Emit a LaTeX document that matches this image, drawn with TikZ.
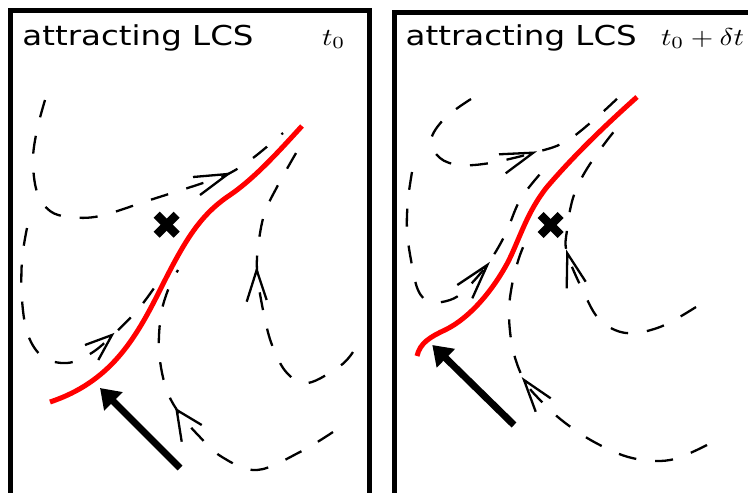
\documentclass[tikz,border=0pt]{standalone}
\usepackage{fontspec}
\usepackage{graphicx}
\usetikzlibrary{arrows.meta}
\newfontfamily\titlefont{DejaVu Sans}
\tikzset{
  frame/.style={line width=5pt, draw=black},
  lcs/.style={line width=5pt, draw=red, line cap=butt},
  traj/.style={line width=2.3pt, dash pattern=on 18pt off 19pt, line cap=butt},
  barb/.style={line width=2.3pt, solid, line join=miter},
  xbar/.style={line width=8.5pt, line cap=butt},
  bigarrow/.style={line width=7pt, -{Triangle[length=19pt,width=25pt]}},
  ttl/.style={anchor=base west, inner sep=0pt, outer sep=0pt},
}
\newcommand{\ttltext}[1]{\scalebox{1.185}[1]{\titlefont\fontsize{27.4}{30}\selectfont #1}}
\newcommand{\mathtext}[1]{\scalebox{2.89}[2.44]{#1}}
\begin{document}
\begin{tikzpicture}[x=1pt,y=-1pt]
\useasboundingbox (0,0) rectangle (748,493);
\clip (0,0) rectangle (748,493);
% frames
\draw[frame] (10.8,10.8) rectangle (369.2,520);
\draw[frame] (394.8,12.2) rectangle (790,520);
% titles
\node[ttl] (title1) at (22.5,45.3) {\ttltext{attracting LCS}};
\node[ttl] (time1) at (322,45.3) {\mathtext{$t_0$}};
\node[ttl] (title2) at (405.7,45.3) {\ttltext{attracting LCS}};
\node[ttl] (time2) at (661,45.3) {\mathtext{$t_0+\delta t$}};

% ===== left panel =====
% trajectories
\draw[traj] plot[smooth, tension=0.6] coordinates {(45,100) (37,130) (33,160) (37,192) (50,211) (70,217) (100,216) (150,200) (200,184) (228,174) (253,158) (283,133)};
\draw[traj] plot[smooth, tension=0.6] coordinates {(27,228) (22,260) (22,300) (28,335) (43,357) (67,363) (90,354) (112,336) (140,307) (163,275)};
\draw[traj] plot[smooth, tension=0.6] coordinates {(333,432) (300,452) (257,470) (222,457) (198,435) (177,410) (165,385) (159,350) (161,315) (168,290) (178,270)};
\draw[traj] plot[smooth, tension=0.6] coordinates {(353,352) (340,366) (308,383) (287,373) (272,345) (263,310) (257,270) (259,240) (265,212) (277,187) (292,160) (305,138)};
% arrowheads
\draw[barb] (193,177) -- (228,174) -- (200,195);
\draw[barb] (85,345) -- (112,335) -- (98.3,360);
\draw[barb] (201.7,425) -- (176.7,410) -- (181.7,441.7);
\draw[barb] (246.7,301.7) -- (256.7,270) -- (266.7,300);
% LCS
\coordinate (l0) at (50,402);
\coordinate (l1) at (160,290);
\coordinate (l2) at (230,195);
\coordinate (l3) at (302,126);
\draw[lcs] (l0) .. controls (110,382) and (135,340) .. (l1)
  .. controls (185,240) and (200,215) .. (l2)
  .. controls (255,178) and (280,150) .. (l3);
% saddle mark
\coordinate (xl) at (166.7,224.7);
\draw[xbar] ([shift={(-10,-10)}]xl) -- ([shift={(10,10)}]xl);
\draw[xbar] ([shift={(-10,10)}]xl) -- ([shift={(10,-10)}]xl);
% big arrow
\coordinate (al0) at (180,468);
\coordinate (al1) at (100,388);
\draw[bigarrow] (al0) -- (al1);

% ===== right panel =====
\draw[traj] plot[smooth, tension=0.6] coordinates {(471,99) (445,118) (431,140) (440,158) (460,165) (490,163) (533,153) (565,142) (596,118) (622,94)};
\draw[traj] plot[smooth, tension=0.6] coordinates {(412,172) (408,200) (407,230) (411,260) (418,290) (430,302) (450,300) (465,290) (487,265) (505,235) (520,200) (541,173)};
\draw[traj] plot[smooth, tension=0.6] coordinates {(707,445) (670,460) (632,458) (596,443) (564,422) (540,400) (524,380) (513,350) (509,315) (512,285) (520,255) (531,230)};
\draw[traj] plot[smooth, tension=0.6] coordinates {(696,307) (660,327) (626,333) (600,320) (584,293) (567,253) (567,230) (573,198) (585,172) (605,143) (625,118)};
\draw[barb] (499,154.3) -- (533.3,152.7) -- (505.7,173.3);
\draw[barb] (457.3,285) -- (487.3,265) -- (472.3,298.3);
\draw[barb] (550.7,398.3) -- (524,380) -- (535.7,411.7);
\draw[barb] (585.7,281.7) -- (567.3,253.3) -- (566.7,288.3);
\coordinate (r0) at (417,356);
\coordinate (r1) at (445,330);
\coordinate (r2) at (508,262);
\coordinate (r3) at (547,187);
\coordinate (r4) at (637,97);
\draw[lcs] (r0) .. controls (420,343) and (430,337) .. (r1)
  .. controls (470,318) and (493,290) .. (r2)
  .. controls (520,238) and (527,212) .. (r3)
  .. controls (570,160) and (600,130) .. (r4);
\coordinate (xr) at (550.7,225);
\draw[xbar] ([shift={(-10,-10)}]xr) -- ([shift={(10,10)}]xr);
\draw[xbar] ([shift={(-10,10)}]xr) -- ([shift={(10,-10)}]xr);
\coordinate (ar0) at (514,425);
\coordinate (ar1) at (432.3,345);
\draw[bigarrow] (ar0) -- (ar1);
\end{tikzpicture}
\end{document}
